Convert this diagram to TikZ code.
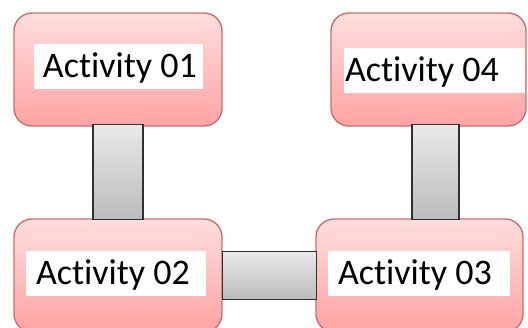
\documentclass[tikz,border=0pt]{standalone}
\usepackage{fontspec}
\setmainfont{Carlito}[Ligatures=NoCommon]
\newcommand{\lbltext}[3]{\makebox[#1][l]{\hspace*{#2}#3}}
\begin{document}
\begin{tikzpicture}[x=1pt,y=-1pt,
  act/.style={draw=actedge, line width=1.4pt, rounded corners=18pt,
    top color=acttop, bottom color=actbot, minimum width=208pt, minimum height=113pt, inner sep=0pt},
  lbl/.style={fill=white, inner sep=0pt, minimum height=45pt,
    font=\fontsize{36}{40}\selectfont, text=black, text height=26pt, text depth=4pt},
  link/.style={draw=linkedge, line width=1.5pt, top color=linktop, bottom color=linkbot}]
\definecolor{actedge}{HTML}{CC6E6E}
\definecolor{acttop}{HTML}{FFDEDE}
\definecolor{actbot}{HTML}{FFA3A3}
\definecolor{linkedge}{HTML}{303030}
\definecolor{linktop}{HTML}{E9E9E9}
\definecolor{linkbot}{HTML}{BCBCBC}
\useasboundingbox (0,0) rectangle (528,327);
\clip (0,0) rectangle (528,327);

% activity boxes
\node[act] (b1) at (118,69.5) {};
\node[act, minimum width=195pt] (b4) at (428.5,69.5) {};
\node[act] (b2) at (118,275.5) {};
\node[act, minimum width=207pt] (b3) at (419.5,275.5) {};

% labels
\node[lbl] (t1) at (118.5,66.5) {\lbltext{169pt}{9pt}{Activity 01}};
\node[lbl] (t4) at (434.5,70.5) {\lbltext{181pt}{1pt}{Activity 04}};
\node[lbl] (t2) at (116,273) {\lbltext{180pt}{10pt}{Activity 02}};
\node[lbl] (t3) at (419,273) {\lbltext{182pt}{10pt}{Activity 03}};

% connecting bars
\draw[link] ([xshift=-25pt,yshift=2pt]b1.south) rectangle ([xshift=25pt,yshift=-1pt]b2.north);
\draw[link] ([xshift=-16.5pt,yshift=2pt]b4.south) rectangle ([xshift=30.5pt,yshift=-1pt]b4.south |- b3.north);
\draw[link] ([yshift=24pt]b2.east) rectangle ([yshift=-24pt,xshift=1pt]b3.west |- b2.east);
\end{tikzpicture}
\end{document}
